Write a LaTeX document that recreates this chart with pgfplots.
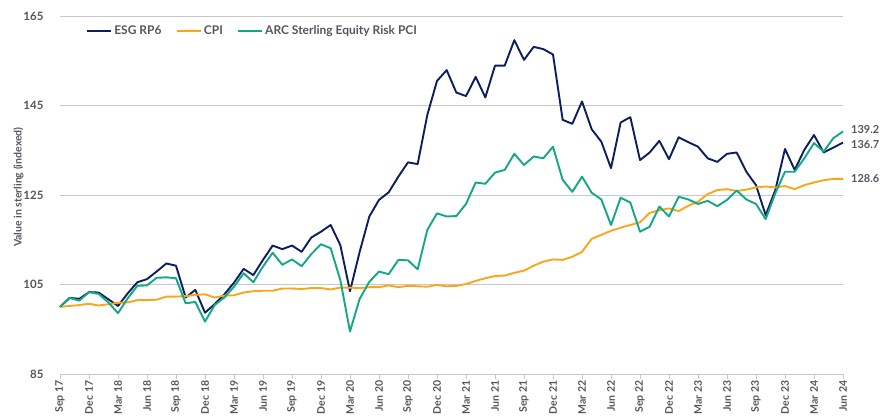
\documentclass[border=0pt]{standalone}
\usepackage{pgfplots}
\pgfplotsset{compat=1.18}
\usepackage{fontspec}
\setmainfont{Lato}
\definecolor{navy}{HTML}{0C1F5C}
\definecolor{cpiorange}{HTML}{FBA61A}
\definecolor{arcteal}{HTML}{12A886}
\definecolor{txt}{HTML}{55555F}
\definecolor{gridc}{HTML}{C8C8C8}
\begin{document}
\begin{tikzpicture}
\begin{axis}[
  scale only axis,
  width=783pt, height=358pt,
  xmin=0, xmax=81, ymin=85, ymax=165,
  clip=false,
  axis lines*=left,
  x axis line style={draw=gridc, line width=0.8pt},
  y axis line style={draw=none},
  ytick={85,105,125,145,165},
  ytick style={draw=none},
  ymajorgrids, grid style={gridc, line width=0.8pt},
  xtick={0,3,...,81},
  xticklabels={Sep 17,Dec 17,Mar 18,Jun 18,Sep 18,Dec 18,Mar 19,Jun 19,Sep 19,Dec 19,Mar 20,Jun 20,Sep 20,Dec 20,Mar 21,Jun 21,Sep 21,Dec 21,Mar 22,Jun 22,Sep 22,Dec 22,Mar 23,Jun 23,Sep 23,Dec 23,Mar 24,Jun 24},
  xtick pos=bottom, tick align=outside,
  xtick style={draw=gridc, line width=0.8pt},
  major tick length=5pt,
  x tick label style={rotate=90, anchor=east, font=\bfseries\fontsize{10.5}{11}\selectfont, text=txt, inner sep=1.5pt},
  y tick label style={font=\bfseries\fontsize{11.5}{12}\selectfont, text=txt},
  yticklabel style={xshift=-8pt},
  /pgf/number format/assume math mode=true,
  ylabel={Value in sterling (indexed)},
  ylabel style={at={(axis description cs:-0.053,0.522)}, anchor=center, font=\bfseries\fontsize{10.5}{12}\selectfont, text=txt},
  legend columns=3,
  legend style={draw=none, fill=none, at={(axis description cs:0.029,0.985)}, anchor=north west, font=\bfseries\fontsize{12}{14}\selectfont, text=txt, /tikz/every even column/.append style={column sep=12pt}},
  legend image code/.code={\draw[#1, line width=2.2pt] (0cm,0cm) -- (0.85cm,0cm);},
  every axis plot/.append style={line width=1.9pt, line join=round},
]
\addplot[navy, mark=none] table {
x y
0 100.0
1 102.0
2 101.8
3 103.3
4 103.2
5 101.7
6 100.2
7 103.0
8 105.5
9 106.2
10 107.9
11 109.7
12 109.2
13 102.1
14 103.8
15 98.7
16 100.6
17 102.8
18 105.4
19 108.5
20 107.1
21 110.5
22 113.7
23 112.9
24 113.7
25 112.3
26 115.5
27 116.8
28 118.3
29 113.8
30 103.5
31 112.3
32 120.2
33 123.9
34 125.6
35 129.1
36 132.3
37 131.9
38 142.9
39 150.5
40 152.9
41 147.9
42 147.1
43 151.4
44 146.8
45 153.9
46 153.9
47 159.6
48 155.2
49 158.1
50 157.6
51 156.4
52 141.8
53 140.9
54 145.9
55 139.7
56 136.9
57 131.0
58 141.2
59 142.4
60 132.8
61 134.5
62 137.1
63 133.0
64 137.9
65 136.8
66 135.8
67 133.2
68 132.4
69 134.2
70 134.5
71 130.2
72 127.2
73 120.5
74 126.1
75 135.3
76 130.6
77 135.1
78 138.4
79 134.5
80 135.6
81 136.7
};
\addlegendentry{ESG RP6}
\addplot[cpiorange, mark=none] table {
x y
0 100.0
1 100.2
2 100.4
3 100.7
4 100.3
5 100.6
6 100.9
7 101.0
8 101.5
9 101.5
10 101.6
11 102.3
12 102.3
13 102.4
14 102.7
15 102.8
16 102.1
17 102.5
18 102.6
19 103.2
20 103.5
21 103.6
22 103.6
23 104.1
24 104.1
25 104.0
26 104.2
27 104.2
28 103.9
29 104.3
30 104.3
31 104.2
32 104.4
33 104.4
34 104.8
35 104.4
36 104.7
37 104.6
38 104.5
39 104.9
40 104.6
41 104.7
42 105.1
43 105.8
44 106.4
45 106.9
46 107.0
47 107.6
48 108.1
49 109.2
50 110.1
51 110.6
52 110.5
53 111.2
54 112.3
55 115.2
56 116.1
57 117.0
58 117.7
59 118.3
60 118.9
61 121.0
62 121.6
63 122.0
64 121.4
65 122.6
66 123.5
67 125.2
68 126.1
69 126.3
70 125.9
71 126.2
72 126.7
73 126.9
74 126.7
75 127.0
76 126.3
77 127.2
78 127.8
79 128.3
80 128.6
81 128.6
};
\addlegendentry{CPI}
\addplot[arcteal, mark=none] table {
x y
0 100.0
1 102.0
2 101.4
3 103.3
4 102.9
5 101.0
6 98.6
7 101.9
8 104.7
9 104.8
10 106.5
11 106.6
12 106.4
13 100.8
14 101.1
15 96.7
16 100.4
17 102.1
18 104.5
19 107.5
20 105.5
21 109.0
22 112.1
23 109.4
24 110.6
25 109.1
26 111.8
27 114.0
28 113.1
29 106.0
30 94.5
31 101.8
32 105.6
33 107.9
34 107.3
35 110.5
36 110.4
37 108.4
38 117.2
39 120.9
40 120.2
41 120.3
42 123.0
43 127.8
44 127.5
45 130.0
46 130.6
47 134.2
48 131.7
49 133.6
50 133.2
51 135.8
52 128.4
53 125.7
54 129.1
55 125.5
56 124.0
57 118.3
58 124.4
59 123.3
60 116.8
61 117.9
62 122.4
63 120.2
64 124.6
65 124.0
66 123.0
67 123.7
68 122.5
69 123.9
70 126.0
71 124.0
72 123.0
73 119.6
74 125.4
75 130.2
76 130.2
77 133.2
78 136.6
79 134.7
80 137.7
81 139.2
};
\addlegendentry{ARC Sterling Equity Risk PCI}
\node[anchor=west, font=\bfseries\fontsize{11}{12}\selectfont, text=txt, inner sep=0pt, xshift=8pt, yshift=1.5pt] at (axis cs:81,139.2) {139.2};
\node[anchor=west, font=\bfseries\fontsize{11}{12}\selectfont, text=txt, inner sep=0pt, xshift=8pt, yshift=-1.5pt] at (axis cs:81,136.7) {136.7};
\node[anchor=west, font=\bfseries\fontsize{11}{12}\selectfont, text=txt, inner sep=0pt, xshift=8pt] at (axis cs:81,128.6) {128.6};
\coordinate (O) at (rel axis cs:0,0);
\coordinate (T) at (rel axis cs:1,1);
\end{axis}
\path ([xshift=-60pt,yshift=-43pt]O) rectangle ([xshift=39pt,yshift=16pt]T);
\end{tikzpicture}
\end{document}
